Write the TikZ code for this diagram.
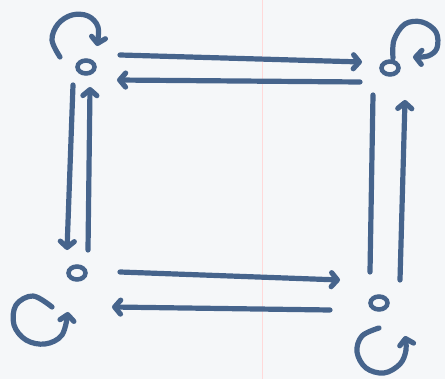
\documentclass[tikz,border=0pt]{standalone}
\usetikzlibrary{arrows.meta,calc,shapes.geometric}
\definecolor{ink}{RGB}{70,100,140}
\definecolor{paper}{RGB}{245,247,249}
\begin{document}
\begin{tikzpicture}[x=1pt,y=-1pt,
  stroke/.style={draw=ink,line width=5.2pt,line cap=round,line join=round},
  arr/.style={stroke,-{Straight Barb[length=6pt,width=14pt,round]}},
  state/.style={ellipse,draw=ink,line width=4.5pt,minimum width=17pt,minimum height=13pt,inner sep=0pt}]
\fill[paper] (0,0) rectangle (445,379);
\useasboundingbox (0,0) rectangle (445,379);
\draw[red!15,line width=0.6pt] (262,0) -- (262,379);

\node[state] (A) at (86,67) {};
\node[state] (B) at (390,68) {};
\node[state] (C) at (77,273) {};
\node[state] (D) at (379,303) {};

% top pair
\draw[arr] ($(A)+(34,-12)$) -- ($(B)+(-28,-6)$);
\draw[arr] ($(B)+(-30,14)$) -- ($(A)+(31,13)$);
% left pair
\draw[arr] ($(A)+(-13,18)$) -- ($(C)+(-10,-23)$);
\draw[arr] ($(C)+(11,-23)$) -- ($(A)+(4,20)$);
% bottom pair
\draw[arr] ($(C)+(43,-1)$) -- ($(D)+(-39,-23)$);
\draw[arr] ($(D)+(-49,7)$) -- ($(C)+(35,34)$);
% right pair
\draw[stroke] ($(B)+(-17,27)$) -- ($(D)+(-9,-31)$);
\draw[arr] ($(D)+(21,-23)$) -- ($(B)+(15,32)$);

% self loops
\draw[arr] plot[smooth,tension=0.6] coordinates {(60,57) (52,40) (58,24) (72,15) (88,16) (98,27) (97,46)};
\draw[arr] plot[smooth,tension=0.6] coordinates {(393,58) (394,40) (405,24) (422,22) (436,32) (437,48) (428,56) (413,57)};
\draw[arr] plot[smooth,tension=0.6] coordinates {(52,307) (33,296) (16,305) (14,325) (26,340) (45,344) (62,335) (68,312)};
\draw[arr] plot[smooth,tension=0.6] coordinates {(379,328) (362,336) (357,352) (366,368) (384,373) (400,364) (406,350) (405,336)};
\end{tikzpicture}
\end{document}
